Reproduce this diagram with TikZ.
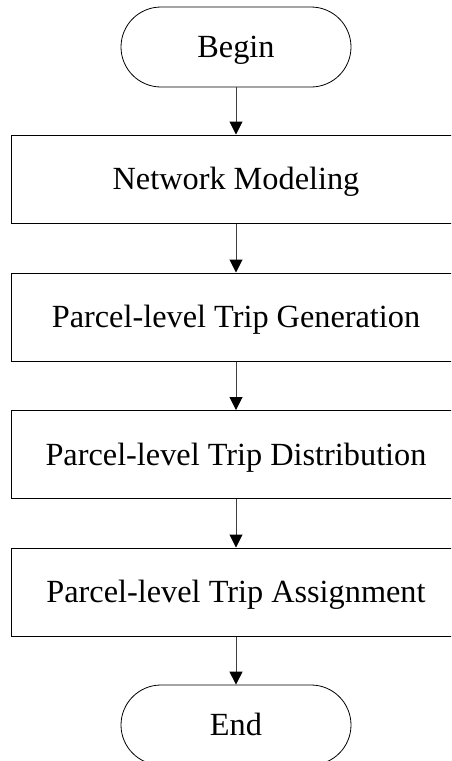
\documentclass[tikz,border=0pt]{standalone}
\usepackage{fontspec}
\setmainfont{Liberation Serif}
\usetikzlibrary{arrows.meta}
\tikzset{
  lbl/.style={font=\fontsize{32.3}{38}\selectfont, text height=21.4pt, text depth=0pt, inner sep=0pt},
  stepbox/.style={lbl, draw=black, line width=1pt, minimum width=450pt, minimum height=88pt},
  term/.style={lbl, draw=black, line width=0.8pt, rounded corners=40pt, minimum width=230pt, minimum height=80pt},
  flow/.style={draw=black!75, line width=1pt, -{Triangle[width=13pt,length=13pt,black]}}
}
\begin{document}
\begin{tikzpicture}[x=1pt,y=1pt]
\useasboundingbox (0,0) rectangle (451,-761);
\clip (0,0) rectangle (451,-761);
\fill[white] (0,0) rectangle (451,-761);
\node[term] (begin) at (236,-47) {Begin};
\node[stepbox] (net) at (236,-179) {Network Modeling};
\node[stepbox] (gen) at (236,-317) {Parcel-level Trip Generation};
\node[stepbox] (dist) at (236,-454.5) {Parcel-level Trip Distribution};
\node[stepbox] (assign) at (236,-592) {Parcel-level Trip Assignment};
\node[term] (end) at (236,-725) {End};
\draw[flow] (begin) -- (net);
\draw[flow] (net) -- (gen);
\draw[flow] (gen) -- (dist);
\draw[flow] (dist) -- (assign);
\draw[flow] (assign) -- (end);
\end{tikzpicture}
\end{document}
